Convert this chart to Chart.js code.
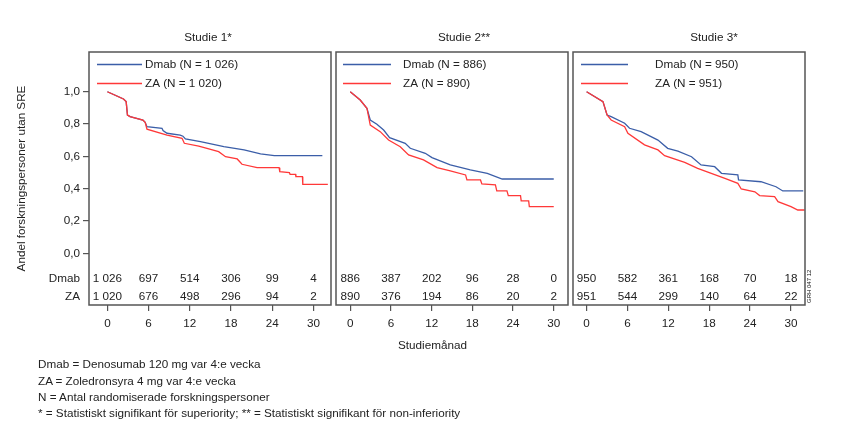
<!DOCTYPE html>
<html>
<head>
<meta charset="utf-8">
<script src="https://cdn.jsdelivr.net/npm/chart.js@4.4.0/dist/chart.umd.min.js"></script>
<style>
  body { margin: 0; background: #fff; width: 855px; height: 448px; overflow: hidden; position: relative;
         font-family: "Liberation Sans", Arial, sans-serif; color: #222; }
  canvas { position: absolute; left: 0; top: 0; }
  .txt { position: absolute; font-size: 11.7px; white-space: nowrap; line-height: 14px; }
  .tag { position: absolute; font-size: 6px; white-space: nowrap; transform: rotate(-90deg); transform-origin: left top; }
</style>
</head>
<body>
<canvas id="c1" width="855" height="448"></canvas>
<canvas id="c2" width="855" height="448"></canvas>
<canvas id="c3" width="855" height="448"></canvas>

<div class="txt" style="left:398px; top:338px;">Studiemånad</div>
<div class="txt" style="left:38px; top:357px;">Dmab = Denosumab 120 mg var 4:e vecka</div>
<div class="txt" style="left:38px; top:374px;">ZA = Zoledronsyra 4 mg var 4:e vecka</div>
<div class="txt" style="left:38px; top:390px;">N = Antal randomiserade forskningspersoner</div>
<div class="txt" style="left:38px; top:406px;">* = Statistiskt signifikant för superiority; ** = Statistiskt signifikant för non-inferiority</div>
<div class="tag" style="left:806px; top:303px;">GRH 047 12</div>

<script>
// axis ticks
const months = [0, 6, 12, 18, 24, 30];
const yTicks = [0, 0.2, 0.4, 0.6, 0.8, 1.0];

// panel titles and legend labels
const studyTitles = ['Studie 1*', 'Studie 2**', 'Studie 3*'];
const dmabLabels = ['Dmab (N = 1 026)', 'Dmab (N = 886)', 'Dmab (N = 950)'];
const zaLabels = ['ZA (N = 1 020)', 'ZA (N = 890)', 'ZA (N = 951)'];

// number at risk, per study
const dmabRisk1 = ['1 026', '697', '514', '306', '99', '4'];
const zaRisk1 = ['1 020', '676', '498', '296', '94', '2'];
const dmabRisk2 = ['886', '387', '202', '96', '28', '0'];
const zaRisk2 = ['890', '376', '194', '86', '20', '2'];
const dmabRisk3 = ['950', '582', '361', '168', '70', '18'];
const zaRisk3 = ['951', '544', '299', '140', '64', '22'];

// Kaplan-Meier curves: [month, proportion without SRE]
const dmab1 = [[0, 1.0], [2.34, 0.955], [2.73, 0.939], [2.92, 0.856], [3.3, 0.846], [5.17, 0.825], [5.5, 0.811],
  [5.76, 0.784], [7.95, 0.774], [8.1, 0.760], [8.68, 0.743], [10.6, 0.732], [11.0, 0.725], [11.36, 0.708],
  [13.55, 0.691], [16.96, 0.66], [19.9, 0.64], [22.3, 0.615], [24.3, 0.604], [31.3, 0.604]];
const za1 = [[0, 1.0], [2.34, 0.955], [2.73, 0.939], [2.92, 0.856], [3.3, 0.846], [5.17, 0.825], [5.5, 0.811],
  [5.76, 0.768], [8.68, 0.732], [10.87, 0.712], [11.2, 0.681], [13.3, 0.664], [14.5, 0.65], [16.2, 0.629],
  [17.2, 0.598], [18.9, 0.584], [19.6, 0.551], [21.8, 0.53], [25.0, 0.53], [25.1, 0.505], [26.5, 0.5],
  [26.6, 0.489], [27.4, 0.489], [27.45, 0.474], [28.4, 0.474], [28.45, 0.427], [32.1, 0.427]];

const dmab2 = [[0, 1.0], [1.47, 0.949], [2.46, 0.898], [2.95, 0.825], [3.93, 0.799], [4.92, 0.763], [5.8, 0.716],
  [8.1, 0.681], [8.85, 0.65], [11.06, 0.619], [12.05, 0.592], [14.75, 0.547], [17.7, 0.516], [20.2, 0.495],
  [22.4, 0.46], [30.0, 0.46]];
const za2 = [[0, 1.0], [1.47, 0.949], [2.46, 0.898], [2.95, 0.794], [4.42, 0.753], [5.65, 0.701], [7.37, 0.66],
  [8.6, 0.609], [10.8, 0.578], [12.8, 0.53], [14.75, 0.51], [17.0, 0.485], [17.2, 0.454], [19.2, 0.454],
  [19.4, 0.429], [21.4, 0.423], [21.6, 0.386], [23.1, 0.386], [23.3, 0.357], [25.1, 0.357], [25.2, 0.324],
  [26.3, 0.324], [26.4, 0.289], [30.0, 0.289]];

const dmab3 = [[0, 1.0], [2.4, 0.939], [3.0, 0.856], [3.6, 0.846], [5.58, 0.805], [6.3, 0.774], [8.0, 0.753],
  [10.47, 0.701], [11.9, 0.65], [13.4, 0.633], [15.4, 0.598], [16.8, 0.547], [18.8, 0.536], [19.8, 0.495],
  [22.2, 0.485], [22.3, 0.454], [25.6, 0.443], [27.8, 0.412], [28.8, 0.386], [31.8, 0.386]];
const za3 = [[0, 1.0], [2.4, 0.939], [3.0, 0.856], [3.6, 0.825], [5.58, 0.784], [6.06, 0.743], [8.5, 0.671],
  [10.47, 0.64], [11.45, 0.604], [14.4, 0.563], [16.3, 0.526], [18.3, 0.495], [20.3, 0.464], [22.2, 0.433],
  [22.7, 0.398], [24.7, 0.381], [25.4, 0.357], [27.6, 0.351], [28.1, 0.32], [30.0, 0.289], [31.0, 0.268],
  [32.0, 0.268]];

const BLUE = '#3b5ea8';
const RED = '#ff3838';
const FONT = '"Liberation Sans", Arial, sans-serif';
const FSIZE = 11.7;
const ROW_DMAB = -0.159;  // y position of the number-at-risk rows
const ROW_ZA = -0.269;

const toXY = arr => arr.map(([x, y]) => ({ x, y }));

// box, title, legend and number at risk for one panel
const panelDecor = {
  id: 'panelDecor',
  afterDraw(chart, args, o) {
    const { ctx, chartArea: a, scales: { x, y } } = chart;
    ctx.save();
    ctx.font = FSIZE + 'px ' + FONT;
    ctx.fillStyle = '#222';
    ctx.textBaseline = 'middle';

    // title
    ctx.textAlign = 'center';
    ctx.fillText(o.title, o.titleX, 38);

    // legend
    ctx.lineWidth = 1.3;
    [[BLUE, o.dmabLabel, 64.5], [RED, o.zaLabel, 83.5]].forEach(([c, label, ly]) => {
      ctx.strokeStyle = c;
      ctx.beginPath();
      ctx.moveTo(a.left + o.legLine[0], ly);
      ctx.lineTo(a.left + o.legLine[1], ly);
      ctx.stroke();
      ctx.textAlign = 'left';
      ctx.fillText(label, a.left + o.legText, ly);
    });

    // number at risk
    ctx.textAlign = 'center';
    months.forEach((m, i) => {
      ctx.fillText(o.dmabRisk[i], x.getPixelForValue(m), y.getPixelForValue(ROW_DMAB));
      ctx.fillText(o.zaRisk[i], x.getPixelForValue(m), y.getPixelForValue(ROW_ZA));
    });
    if (o.rowLabels) {
      ctx.textAlign = 'right';
      ctx.fillText('Dmab', a.left - 9, y.getPixelForValue(ROW_DMAB));
      ctx.fillText('ZA', a.left - 9, y.getPixelForValue(ROW_ZA));
    }

    // frame
    ctx.strokeStyle = '#555';
    ctx.lineWidth = 1.5;
    ctx.strokeRect(a.left, a.top, a.right - a.left, a.bottom - a.top);
    ctx.restore();
  }
};

function makePanel(id, p) {
  new Chart(document.getElementById(id), {
    type: 'line',
    data: {
      datasets: [
        { data: toXY(p.za), borderColor: RED, borderWidth: 1.3, pointRadius: 0, fill: false, tension: 0 },
        { data: toXY(p.dmab), borderColor: BLUE, borderWidth: 1.3, pointRadius: 0, fill: false, tension: 0 }
      ]
    },
    options: {
      responsive: false,
      animation: false,
      events: [],
      layout: { padding: { left: p.padLeft, right: p.padRight, top: 52, bottom: 113 } },
      scales: {
        x: {
          type: 'linear',
          min: p.xMin,
          max: p.xMax,
          afterBuildTicks: s => { s.ticks = months.map(v => ({ value: v })); },
          afterFit: s => { s.height = 30; },
          ticks: { color: '#222', font: { family: FONT, size: FSIZE }, padding: 6, maxRotation: 0 },
          grid: { drawOnChartArea: false, tickLength: 6, color: '#555', lineWidth: 1.2 },
          border: { display: false }
        },
        y: {
          type: 'linear',
          display: p.showY,
          min: -0.32,
          max: 1.246,
          afterBuildTicks: s => { s.ticks = yTicks.map(v => ({ value: v })); },
          afterFit: s => { s.width = p.yWidth; },
          ticks: {
            color: '#222', font: { family: FONT, size: FSIZE }, padding: 3,
            callback: v => v.toFixed(1).replace('.', ',')
          },
          grid: { drawOnChartArea: false, tickLength: 6, color: '#555', lineWidth: 1.2 },
          border: { display: false },
          title: {
            display: true, text: 'Andel forskningspersoner utan SRE', color: '#222',
            font: { family: FONT, size: FSIZE }, padding: { top: 0, bottom: 0 }
          }
        }
      },
      plugins: {
        legend: { display: false },
        tooltip: { enabled: false },
        panelDecor: p.decor
      }
    },
    plugins: [panelDecor]
  });
}

makePanel('c1', {
  dmab: dmab1, za: za1, xMin: -2.68, xMax: 32.56, padLeft: 15, padRight: 524, showY: true, yWidth: 74,
  decor: { title: studyTitles[0], titleX: 208, dmabLabel: dmabLabels[0], zaLabel: zaLabels[0],
           legLine: [8, 53], legText: 56, dmabRisk: dmabRisk1, zaRisk: zaRisk1, rowLabels: true }
});
makePanel('c2', {
  dmab: dmab2, za: za2, xMin: -2.1, xMax: 32.1, padLeft: 336, padRight: 287, showY: false, yWidth: 0,
  decor: { title: studyTitles[1], titleX: 464, dmabLabel: dmabLabels[1], zaLabel: zaLabels[1],
           legLine: [7, 55], legText: 67, dmabRisk: dmabRisk2, zaRisk: zaRisk2, rowLabels: false }
});
makePanel('c3', {
  dmab: dmab3, za: za3, xMin: -2.0, xMax: 32.06, padLeft: 573, padRight: 50, showY: false, yWidth: 0,
  decor: { title: studyTitles[2], titleX: 714, dmabLabel: dmabLabels[2], zaLabel: zaLabels[2],
           legLine: [8, 55], legText: 82, dmabRisk: dmabRisk3, zaRisk: zaRisk3, rowLabels: false }
});
</script>
</body>
</html>
